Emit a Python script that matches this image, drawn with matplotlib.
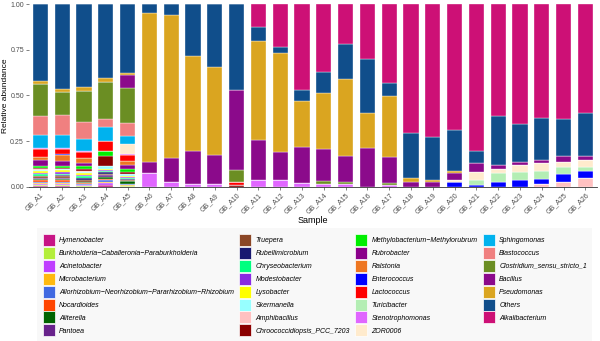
import matplotlib
matplotlib.use("Agg")
import matplotlib.pyplot as plt
import matplotlib.patches as mpatches
import numpy as np

plt.rcParams["font.family"] = ["Liberation Sans", "DejaVu Sans"]

samples = ["GB_A%d" % i for i in range(1, 27)]

# relative abundance per genus, one value per sample GB_A1 .. GB_A26
hymenobacter = [0.003, 0.004, 0.002, 0.008, 0.002, 0, 0, 0, 0, 0, 0, 0, 0, 0, 0, 0, 0, 0, 0, 0, 0, 0, 0, 0, 0, 0]
burkholderia = [0.005, 0.004, 0.002, 0.004, 0.002, 0, 0, 0, 0, 0, 0, 0, 0, 0, 0, 0, 0, 0, 0, 0, 0, 0, 0, 0, 0, 0]
acinetobacter = [0.006, 0.006, 0.004, 0.010, 0.003, 0, 0, 0, 0, 0, 0, 0, 0, 0, 0, 0, 0, 0, 0, 0, 0, 0, 0, 0, 0, 0]
microbacterium = [0.009, 0.008, 0.004, 0.004, 0.004, 0, 0, 0, 0, 0, 0, 0, 0, 0, 0, 0, 0, 0, 0, 0, 0, 0, 0, 0, 0, 0]
allorhizobium = [0.006, 0.007, 0.004, 0.014, 0.004, 0, 0, 0, 0, 0, 0, 0, 0, 0, 0, 0, 0, 0, 0, 0, 0, 0, 0, 0, 0, 0]
nocardioides = [0.008, 0.006, 0.004, 0.004, 0.003, 0, 0, 0, 0, 0, 0, 0, 0, 0, 0, 0, 0, 0, 0, 0, 0, 0, 0, 0, 0, 0]
aliterella = [0.005, 0.006, 0.004, 0.008, 0.012, 0, 0, 0, 0, 0, 0, 0, 0, 0, 0, 0, 0, 0, 0, 0, 0, 0, 0, 0, 0, 0]
pantoea = [0.008, 0.008, 0.004, 0.014, 0.004, 0, 0, 0, 0, 0, 0, 0, 0, 0, 0, 0, 0, 0, 0, 0, 0, 0, 0, 0, 0, 0]
truepera = [0.007, 0.010, 0.010, 0.006, 0.004, 0, 0, 0, 0, 0, 0, 0, 0, 0, 0, 0, 0, 0, 0, 0, 0, 0, 0, 0, 0, 0]
rubellimicrobium = [0.005, 0.006, 0.008, 0.012, 0.004, 0, 0, 0, 0, 0, 0, 0, 0, 0, 0, 0, 0, 0, 0, 0, 0, 0, 0, 0, 0, 0]
chryseobacterium = [0.006, 0.006, 0.012, 0.004, 0.008, 0, 0, 0, 0, 0, 0, 0, 0, 0, 0, 0, 0, 0, 0, 0, 0, 0, 0, 0, 0, 0]
modestobacter = [0.007, 0.008, 0.006, 0.006, 0.006, 0, 0, 0, 0, 0, 0, 0, 0, 0, 0, 0, 0, 0, 0, 0, 0, 0, 0, 0, 0, 0]
lysobacter = [0.014, 0.012, 0.010, 0.006, 0.004, 0, 0, 0, 0, 0, 0, 0, 0, 0, 0, 0, 0, 0, 0, 0, 0, 0, 0, 0, 0, 0]
skermanella = [0.006, 0.005, 0.010, 0.015, 0.008, 0, 0, 0, 0, 0, 0, 0, 0, 0, 0, 0, 0, 0, 0, 0, 0, 0, 0, 0, 0, 0]
amphibacillus = [0.004, 0.003, 0.004, 0, 0.003, 0, 0, 0, 0, 0, 0, 0, 0, 0, 0, 0, 0, 0, 0, 0, 0, 0, 0, 0.015, 0.026, 0.051]
chroococcidiopsis = [0.004, 0.004, 0.008, 0.055, 0.013, 0, 0, 0, 0, 0.011, 0, 0, 0, 0, 0, 0, 0, 0, 0, 0, 0, 0, 0, 0, 0, 0]
methylobacterium = [0.012, 0.013, 0.016, 0.027, 0.013, 0, 0, 0, 0, 0, 0, 0, 0, 0, 0, 0, 0, 0, 0, 0, 0, 0, 0, 0, 0, 0]
rubrobacter = [0.031, 0.027, 0.018, 0, 0.020, 0, 0, 0, 0, 0, 0, 0, 0, 0, 0, 0, 0, 0, 0, 0, 0, 0, 0, 0, 0, 0]
ralstonia = [0.018, 0.033, 0.028, 0, 0.027, 0, 0, 0, 0, 0, 0, 0, 0, 0, 0, 0, 0, 0, 0, 0, 0, 0, 0, 0, 0, 0]
enterococcus = [0, 0.002, 0, 0, 0, 0, 0, 0, 0, 0, 0, 0, 0, 0, 0, 0, 0, 0, 0, 0.024, 0.011, 0.029, 0.035, 0.027, 0.045, 0.036]
lactococcus = [0.041, 0.027, 0.033, 0.055, 0.030, 0, 0, 0, 0, 0.018, 0, 0, 0, 0, 0, 0, 0, 0, 0, 0, 0, 0, 0, 0, 0, 0]
turicibacter = [0.002, 0.002, 0.002, 0, 0.002, 0, 0, 0, 0, 0, 0, 0, 0, 0, 0, 0, 0, 0, 0, 0, 0.024, 0.046, 0.049, 0.047, 0.035, 0.024]
stenotrophomonas = [0.003, 0.003, 0.002, 0, 0.002, 0.075, 0.029, 0.018, 0.015, 0, 0.038, 0.035, 0.020, 0.016, 0.016, 0, 0.011, 0, 0, 0, 0, 0, 0, 0, 0, 0]
zor0006 = [0.004, 0.004, 0.003, 0, 0.055, 0, 0, 0, 0, 0, 0, 0, 0, 0, 0, 0, 0, 0, 0, 0.014, 0.049, 0.022, 0.033, 0.040, 0.029, 0.037]
sphingomonas = [0.069, 0.069, 0.065, 0.076, 0.046, 0, 0, 0, 0, 0, 0, 0, 0, 0, 0, 0, 0, 0, 0, 0, 0, 0, 0, 0, 0, 0]
blastococcus = [0.102, 0.108, 0.090, 0.046, 0.069, 0, 0, 0, 0, 0, 0, 0, 0, 0, 0, 0, 0, 0, 0, 0, 0, 0, 0, 0, 0, 0]
clostridium = [0.178, 0.127, 0.173, 0.200, 0.191, 0, 0, 0, 0, 0.064, 0, 0, 0, 0.017, 0.011, 0, 0.009, 0, 0, 0, 0, 0, 0, 0, 0, 0]
bacillus = [0, 0, 0, 0, 0.073, 0.063, 0.128, 0.179, 0.160, 0.437, 0.219, 0.154, 0.197, 0.175, 0.144, 0.211, 0.142, 0.029, 0.029, 0.037, 0.049, 0.023, 0.021, 0.019, 0.036, 0.021]
pseudomonas = [0.017, 0.020, 0.020, 0.024, 0.013, 0.815, 0.783, 0.519, 0.483, 0, 0.541, 0.541, 0.255, 0.304, 0.417, 0.195, 0.335, 0.018, 0.009, 0.012, 0, 0, 0, 0, 0, 0]
others = [0.420, 0.462, 0.454, 0.402, 0.375, 0.047, 0.060, 0.284, 0.342, 0.470, 0.078, 0.037, 0.058, 0.118, 0.193, 0.293, 0.069, 0.246, 0.233, 0.224, 0.064, 0.270, 0.206, 0.231, 0.199, 0.234]
alkalibacterium = [0, 0, 0, 0, 0, 0, 0, 0, 0, 0, 0.124, 0.233, 0.470, 0.370, 0.219, 0.301, 0.434, 0.707, 0.729, 0.689, 0.803, 0.610, 0.656, 0.621, 0.630, 0.597]

# stacking order, bottom to top (also the legend order)
genera = [
    ("Hymenobacter", hymenobacter, "#C71585"),
    ("Burkholderia\u2212Caballeronia\u2212Paraburkholderia", burkholderia, "#B3EE3A"),
    ("Acinetobacter", acinetobacter, "#BF3EFF"),
    ("Microbacterium", microbacterium, "#FFB90F"),
    ("Allorhizobium\u2212Neorhizobium\u2212Pararhizobium\u2212Rhizobium", allorhizobium, "#4169E1"),
    ("Nocardioides", nocardioides, "#FF4500"),
    ("Aliterella", aliterella, "#006400"),
    ("Pantoea", pantoea, "#68228B"),
    ("Truepera", truepera, "#8B4726"),
    ("Rubellimicrobium", rubellimicrobium, "#191970"),
    ("Chryseobacterium", chryseobacterium, "#00FF7F"),
    ("Modestobacter", modestobacter, "#8A2BE2"),
    ("Lysobacter", lysobacter, "#FFFF00"),
    ("Skermanella", skermanella, "#97FFFF"),
    ("Amphibacillus", amphibacillus, "#FFC1C1"),
    ("Chroococcidiopsis_PCC_7203", chroococcidiopsis, "#8B0000"),
    ("Methylobacterium\u2212Methylorubrum", methylobacterium, "#00EE00"),
    ("Rubrobacter", rubrobacter, "#8B008B"),
    ("Ralstonia", ralstonia, "#EE7621"),
    ("Enterococcus", enterococcus, "#0000FF"),
    ("Lactococcus", lactococcus, "#FF0000"),
    ("Turicibacter", turicibacter, "#B4EEB4"),
    ("Stenotrophomonas", stenotrophomonas, "#E066FF"),
    ("ZOR0006", zor0006, "#FFEBCD"),
    ("Sphingomonas", sphingomonas, "#00B2EE"),
    ("Blastococcus", blastococcus, "#F08080"),
    ("Clostridium_sensu_stricto_1", clostridium, "#6B8E23"),
    ("Bacillus", bacillus, "#8B0A8B"),
    ("Pseudomonas", pseudomonas, "#DAA520"),
    ("Others", others, "#104E8B"),
    ("Alkalibacterium", alkalibacterium, "#CD1076"),
]

fig = plt.figure(figsize=(6, 3.41), dpi=100)
ax = fig.add_axes([0.048, 0.452, 0.947, 0.536])

x = np.arange(len(samples))
bottom = np.zeros(len(samples))
for name, vals, col in genera:
    vals = np.array(vals, dtype=float)
    ax.bar(x, vals, bottom=bottom, width=0.7, color=col,
           edgecolor="white", linewidth=0.25)
    bottom += vals

ax.set_xlim(-0.53, len(samples) - 0.47)
ax.set_ylim(0, 1)
ax.set_yticks([0, 0.25, 0.5, 0.75, 1.0])
ax.set_yticklabels(["0.00", "0.25", "0.50", "0.75", "1.00"])
ax.set_xticks(x)
ax.set_xticklabels(samples, rotation=45, ha="right", rotation_mode="anchor")
ax.tick_params(axis="both", labelsize=5, colors="#4D4D4D", length=2,
               width=0.5, pad=1.5)
for s in ["top", "right", "left"]:
    ax.spines[s].set_visible(False)
ax.spines["bottom"].set_color("#333333")
ax.spines["bottom"].set_linewidth(0.6)

ax.set_ylabel("Relative abundance", fontsize=6)
ax.yaxis.set_label_coords(-0.034, 0.5)
ax.set_xlabel("Sample", fontsize=6.5, labelpad=0)

# legend keys: 12 px squares on a 13 px row pitch
handles = [mpatches.Patch(facecolor=c, edgecolor="white", linewidth=0.5, label=n)
           for n, _, c in genera]
leg = fig.legend(handles=handles, ncol=4, loc="upper left",
                 bbox_to_anchor=(0.062, 0.331), borderaxespad=0,
                 prop={"size": 5, "style": "italic"},
                 handlelength=1.75, handleheight=2.28, labelspacing=0.14,
                 handletextpad=0.6, columnspacing=0.75, borderpad=0.8,
                 frameon=True, fancybox=False)
leg.get_frame().set_facecolor("#F7F7F7")
leg.get_frame().set_edgecolor("none")

fig.savefig("out.png", dpi=100)
